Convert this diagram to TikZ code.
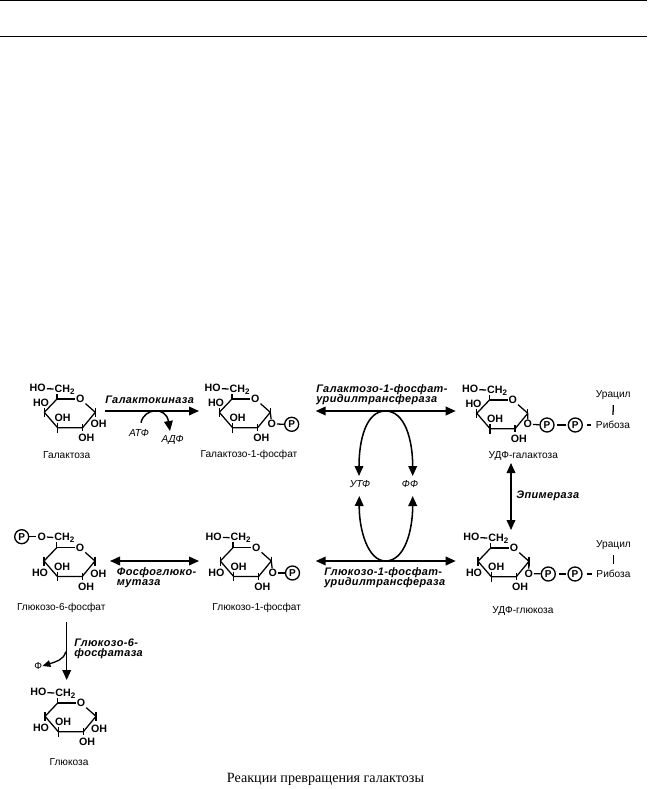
\documentclass[tikz,border=0pt]{standalone}
\usepackage{fontspec}
\setmainfont{Liberation Sans}
\newfontfamily\enzfont[LetterSpace=3.5]{Liberation Sans}
\newfontfamily\capfont{Liberation Serif}
\usetikzlibrary{arrows.meta,positioning,calc}
\tikzset{
  bond/.style={line width=0.95pt},
  react/.style={line width=1.15pt,-{Triangle[length=7.5pt,width=6.5pt]}},
  both/.style={line width=1.15pt,{Triangle[length=7.5pt,width=6.5pt]}-{Triangle[length=7.5pt,width=6.5pt]}},
  chem/.style={font=\fontsize{8}{8}\selectfont\bfseries,inner sep=0.6pt},
  label/.style={font=\fontsize{7.6}{8}\selectfont,inner sep=0pt},
  cofac/.style={font=\fontsize{7.6}{8}\selectfont\itshape,inner sep=0pt},
  enz/.style={font=\fontsize{8.2}{7.8}\selectfont\enzfont\bfseries\itshape,inner sep=0pt,align=left,anchor=west},
  phos/.style={circle,draw,line width=1pt,inner sep=0pt,minimum size=10.5pt,font=\fontsize{7.5}{8}\selectfont\bfseries},
  % sugar ring without the groups that differ from picture to picture
  pics/galring/.style={code={
    \ringcore
    \node [chem] (ho) at (-16,4.3) {HO};
  }},
  pics/glcring/.style={code={
    \ringcore
    \node [chem] (ho) at (-16.7,24.7) {HO};
  }},
}
\newcommand{\ringcore}{%
    \coordinate (c5) at (0,0);
    \node [chem] (o) at (23.3,0) {O};
    \coordinate (c1) at (38.3,13.3);
    \coordinate (c2) at (25.6,28.7);
    \coordinate (c3) at (0.6,28.7);
    \coordinate (c4) at (-12.7,13.3);
    \draw [bond] (c5) -- (o);
    \draw [bond] (o) -- (c1);
    \draw [bond,line join=round] (c1) -- (c2) -- (c3) -- (c4) -- (c5);
    % Ticks
    \draw [bond] (-12.7,9) -- (-12.7,18);
    \draw [bond] (38.3,9) -- (38.3,18);
    \draw [bond] (0.6,24) -- (0.6,33.5);
    \draw [bond] (25.6,25) -- (25.6,32);
    \node [chem] (ch) at (8,-9.5) {CH\textsubscript{2}};
    \draw [bond] (c5) -- (0,-5.5);
    \node [chem] (oh3) at (5.5,18.7) {OH};
    \node [chem] (oh2) at (29.3,39.3) {OH};
}
\begin{document}
\begin{tikzpicture}[x=0.75pt, y=-0.75pt]
        \useasboundingbox (0,0) rectangle (647,789);
        % Rules at the top of the page
        \coordinate (ruleAl) at (0,0.6);
        \coordinate (ruleAr) at (647,0.6);
        \coordinate (ruleBl) at (0,36.3);
        \coordinate (ruleBr) at (647,36.3);
        \draw [line width=0.9pt] (ruleAl) -- (ruleAr);
        \draw [line width=0.9pt] (ruleBl) -- (ruleBr);
        % Galactose
        \pic (gal) at (57,399) {galring};
        \node [chem] (galhoa) at (37.7,388.3) {HO};
        \draw [bond] (galhoa) -- (galch);
        \node [chem] (galoh) at (98.6,424.3) {OH};
        \node [label] (galname) at (66.7,455) {Галактоза};
        % Galactose-1-phosphate
        \pic (gp) at (232,399) {galring};
        \node [chem] (gphoa) at (212.7,388.3) {HO};
        \draw [bond] (gphoa) -- (gpch);
        \node [chem] (gpo) at (271.7,424) {O};
        \node [phos] (gpp) at (291.7,424.3) {P};
        \draw [bond] (gpc1) -- (gpo);
        \draw [bond] (gpo) -- (gpp);
        \node [label] (gpname) at (249,455) {Галактозо-1-фосфат};
        % UDP-galactose
        \pic (ug) at (489.5,400) {galring};
        \node [chem] (ughoa) at (470.2,389.3) {HO};
        \draw [bond] (ughoa) -- (ugch);
        \node [chem] (ugo) at (527.7,424.3) {O};
        \node [phos] (ugpa) at (547,425) {P};
        \node [phos] (ugpb) at (575.3,425) {P};
        \node [label] (ugrib) at (613,425) {Рибоза};
        \node [label] (ugura) at (613.3,395) {Урацил};
        \draw [bond] (ugc1) -- (ugo);
        \draw [bond] (ugo) -- (ugpa);
        \draw [bond,shorten <=2pt,shorten >=1pt] (ugpa) -- (ugpb);
        \draw [bond,shorten <=3pt,shorten >=3.5pt] (ugpb) -- (ugrib);
        \draw [bond] ([yshift=-4pt]ugura.south) -- ([yshift=4.5pt]ugrib.north);
        \node [label] (ugname) at (523.3,455.7) {УДФ-галактоза};
        % UDP-glucose
        \pic (uc) at (490.7,548) {glcring};
        \node [chem] (uchoa) at (471.4,537.3) {HO};
        \draw [bond] (uchoa) -- (ucch);
        \node [chem] (uco) at (528.7,573.5) {O};
        \node [phos] (ucpa) at (548.3,574) {P};
        \node [phos] (ucpb) at (575,574) {P};
        \node [label] (ucrib) at (613.5,574) {Рибоза};
        \node [label] (ucura) at (613.5,545) {Урацил};
        \draw [bond] (ucc1) -- (uco);
        \draw [bond] (uco) -- (ucpa);
        \draw [bond,shorten <=2pt,shorten >=1pt] (ucpa) -- (ucpb);
        \draw [bond,shorten <=3pt,shorten >=3.5pt] (ucpb) -- (ucrib);
        \draw [bond] ([yshift=-4pt]ucura.south) -- ([yshift=4.5pt]ucrib.north);
        \node [label] (ucname) at (523,611) {УДФ-глюкоза};
        % Glucose-1-phosphate
        \pic (cp) at (233,547.7) {glcring};
        \node [chem] (cphoa) at (213.7,537) {HO};
        \draw [bond] (cphoa) -- (cpch);
        \node [chem] (cpo) at (272.7,573) {O};
        \node [phos] (cpp) at (292.5,573) {P};
        \draw [bond] (cpc1) -- (cpo);
        \draw [bond] (cpo) -- (cpp);
        \node [label] (cpname) at (256.7,607.7) {Глюкозо-1-фосфат};
        % Glucose-6-phosphate
        \pic (sp) at (56.7,547.7) {glcring};
        \node [phos] (spp) at (21.7,536.7) {P};
        \node [chem] (spoa) at (41.7,536.7) {O};
        \draw [bond] (spp) -- (spoa);
        \draw [bond] (spoa) -- (spch);
        \node [chem] (spoh) at (98.3,574) {OH};
        \node [label] (spname) at (61.3,607.7) {Глюкозо-6-фосфат};
        % Glucose
        \pic (cc) at (57.7,703) {glcring};
        \node [chem] (cchoa) at (38.4,692.3) {HO};
        \draw [bond] (cchoa) -- (ccch);
        \node [chem] (ccoh) at (99,729.3) {OH};
        \node [label] (ccname) at (69,761.7) {Глюкоза};
        % Galactokinase
        \coordinate (kinl) at (105,411);
        \coordinate (kinr) at (199,411);
        \draw [react] (kinl) -- (kinr);
        \node [enz] (kin) at (105,399.5) {Галактокиназа};
        \node [cofac] (atp) at (139,433) {АТФ};
        \node [cofac] (adp) at (172.7,440) {АДФ};
        \coordinate (atps) at (141,422.7);
        \coordinate (adpe) at (170,431);
        \draw [react,line width=1.1pt] (atps) .. controls (144,408) and (166,406) .. (adpe);
        % Uridyltransferase, upper
        \coordinate (utal) at (315.7,411);
        \coordinate (utar) at (455.7,411);
        \coordinate (utam) at (385.5,411);
        \coordinate (utpt) at (359,476);
        \coordinate (ppit) at (412.7,476);
        \draw [both] (utal) -- (utar);
        \node [enz] (uta) at (316,394.5) {Галактозо-1-фосфат-\\уридилтрансфераза};
        \node [cofac] (utp) at (360,484.3) {УТФ};
        \node [cofac] (ppi) at (410,484.3) {ФФ};
        \draw [react] (utam) .. controls (366,411) and (359,440) .. (utpt);
        \draw [react] (utam) .. controls (405,411) and (412.7,440) .. (ppit);
        % Uridyltransferase, lower
        \coordinate (utbl) at (315.7,561);
        \coordinate (utbr) at (455.7,561);
        \coordinate (utbm) at (385.5,561);
        \coordinate (utpb) at (359.3,496);
        \coordinate (ppib) at (412.7,496);
        \draw [both] (utbl) -- (utbr);
        \node [enz] (utb) at (324,577.7) {Глюкозо-1-фосфат-\\уридилтрансфераза};
        \draw [react] (utbm) .. controls (368,561) and (359,530) .. (utpb);
        \draw [react] (utbm) .. controls (405,561) and (412.7,530) .. (ppib);
        % Epimerase
        \coordinate (epit) at (511,463);
        \coordinate (epib) at (511,530);
        \draw [both] (epit) -- (epib);
        \node [enz] (epi) at (516,496) {Эпимераза};
        % Phosphoglucomutase
        \coordinate (mutl) at (110,561);
        \coordinate (mutr) at (199,561);
        \draw [both] (mutl) -- (mutr);
        \node [enz] (mut) at (116.7,577.7) {Фосфоглюко-\\мутаза};
        % Glucose-6-phosphatase
        \coordinate (fast) at (66.7,622);
        \coordinate (fasb) at (66.7,680);
        \coordinate (fasm) at (65.7,651.7);
        \draw [react] (fast) -- (fasb);
        \node [enz] (fas) at (74,649) {Глюкозо-6-\\фосфатаза};
        \node [label] (pi) at (38.3,666) {Ф};
        \draw [react,line width=1pt,-{Triangle[length=6pt,width=5pt]}] (fasm) .. controls (64,660) and (55,662) .. (pi.east);
        % Caption
        \node [font=\fontsize{10.6}{12}\selectfont\capfont,inner sep=0pt] (cap) at (325.5,779) {Реакции превращения галактозы};
\end{tikzpicture}
\end{document}
